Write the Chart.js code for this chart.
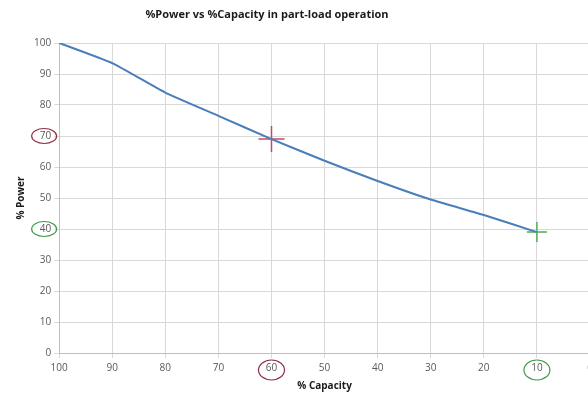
<!DOCTYPE html>
<html>
<head>
<meta charset="utf-8">
<script src="https://cdn.jsdelivr.net/npm/chart.js@4.4.1/dist/chart.umd.min.js"></script>
<style>
    html, body { margin: 0; padding: 0; background: #fff; overflow: hidden; }
    #wrap { width: 612px; height: 397px; }
</style>
</head>
<body>
<div id="wrap"><canvas id="chart" width="612" height="397"></canvas></div>
<script>
// Part-load curve: % capacity vs % power
const capacity = [100, 90, 80, 70, 60, 50, 40, 30, 20, 10];
const power = [100, 93.5, 84, 76.5, 69, 62, 55.5, 49.5, 44.5, 39];

// Highlighted operating points
const redPoint = { x: 60, y: 69 };
const greenPoint = { x: 10, y: 39 };

// Tick labels that are circled on the axes
const circledY = [{ value: 70, color: '#8e2f45' }, { value: 40, color: '#3f9a4c' }];
const circledX = [{ value: 60, color: '#8e2f45' }, { value: 10, color: '#3f9a4c' }];

const chartTitle = '%Power vs %Capacity in part-load operation';

const TICK_COLOR = '#595959';
const GRID_COLOR = '#d9d9d9';
const FONT = 'Open Sans';

// Title sits left of centre in the original, so it is drawn here
const offsetTitle = {
    id: 'offsetTitle',
    afterDraw(chart) {
        const ctx = chart.ctx;
        ctx.save();
        ctx.font = 'bold 11px "' + FONT + '"';
        ctx.fillStyle = '#1a1a1a';
        ctx.textAlign = 'center';
        ctx.textBaseline = 'middle';
        ctx.fillText(chartTitle, 267, 15);
        ctx.restore();
    }
};

// Draw ellipses round selected tick labels
const circleLabels = {
    id: 'circleLabels',
    afterDraw(chart) {
        const ctx = chart.ctx;
        const xs = chart.scales.x;
        const ys = chart.scales.y;
        ctx.save();
        ctx.lineWidth = 1.2;
        circledY.forEach(c => {
            const py = ys.getPixelForValue(c.value);
            ctx.strokeStyle = c.color;
            ctx.beginPath();
            ctx.ellipse(ys.right - 15, py, 12.5, 7.5, 0, 0, Math.PI * 2);
            ctx.stroke();
        });
        circledX.forEach(c => {
            const px = xs.getPixelForValue(c.value);
            ctx.strokeStyle = c.color;
            ctx.beginPath();
            ctx.ellipse(px, xs.top + 17, 13, 10, 0, 0, Math.PI * 2);
            ctx.stroke();
        });
        ctx.restore();
    }
};

new Chart(document.getElementById('chart'), {
    type: 'scatter',
    data: {
        datasets: [
            {
                label: 'Power',
                data: capacity.map((c, i) => ({ x: c, y: power[i] })),
                showLine: true,
                borderColor: '#4a7ebb',
                borderWidth: 2,
                tension: 0.15,
                pointRadius: 0
            },
            {
                label: 'Red',
                data: [redPoint],
                pointStyle: 'cross',
                pointRadius: 13,
                borderColor: '#c24a68',
                borderWidth: 1.5
            },
            {
                label: 'Green',
                data: [greenPoint],
                pointStyle: 'cross',
                pointRadius: 10,
                borderColor: '#4fae55',
                borderWidth: 1.5
            }
        ]
    },
    options: {
        responsive: false,
        animation: false,
        layout: {
            padding: { top: 43, right: 22, left: 15, bottom: 5 }
        },
        plugins: {
            legend: { display: false },
            tooltip: { enabled: false },
            title: { display: false }
        },
        scales: {
            x: {
                type: 'linear',
                reverse: true,
                min: 0,
                max: 100,
                ticks: {
                    stepSize: 10,
                    color: TICK_COLOR,
                    font: { family: FONT, size: 10 },
                    padding: 4,
                    maxRotation: 0
                },
                grid: {
                    color: GRID_COLOR,
                    tickLength: 5
                },
                border: { color: '#bfbfbf' },
                title: {
                    display: true,
                    text: '% Capacity',
                    color: '#1a1a1a',
                    font: { family: FONT, size: 10, weight: 'bold' },
                    padding: { top: 2, bottom: 0 }
                }
            },
            y: {
                min: 0,
                max: 100,
                ticks: {
                    stepSize: 10,
                    color: TICK_COLOR,
                    font: { family: FONT, size: 10 },
                    padding: 3
                },
                grid: {
                    color: GRID_COLOR,
                    tickLength: 5
                },
                border: { color: '#bfbfbf' },
                title: {
                    display: true,
                    text: '% Power',
                    color: '#1a1a1a',
                    font: { family: FONT, size: 10, weight: 'bold' },
                    padding: { top: 0, bottom: 4 }
                }
            }
        }
    },
    plugins: [circleLabels, offsetTitle]
});
</script>
</body>
</html>
